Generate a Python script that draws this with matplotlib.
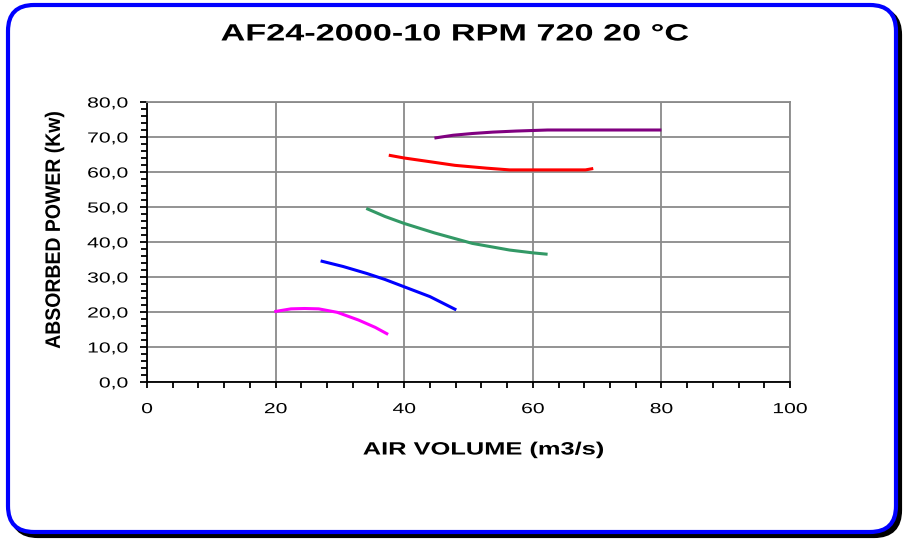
import matplotlib
matplotlib.use("Agg")
import matplotlib.pyplot as plt
from matplotlib.patches import FancyBboxPatch
from matplotlib.ticker import MultipleLocator, FuncFormatter
from matplotlib.patheffects import AbstractPathEffect
from matplotlib.transforms import Affine2D

plt.rcParams['font.family'] = ['Liberation Sans', 'DejaVu Sans']

title = "AF24-2000-10 RPM 720 20 °C"
xlabel = "AIR VOLUME (m3/s)"
ylabel = "ABSORBED POWER (Kw)"

purple_x = [44.7, 47.6, 50.6, 53.8, 57.4, 62.3, 70.0, 80.0]
purple_y = [69.7, 70.5, 71.0, 71.4, 71.7, 72.0, 72.0, 72.0]

red_x = [37.6, 40.0, 43.4, 47.9, 52.8, 56.4, 62.0, 68.2, 69.4]
red_y = [64.8, 64.0, 63.1, 61.9, 61.1, 60.6, 60.6, 60.6, 61.0]

green_x = [34.1, 37.0, 40.0, 44.7, 50.6, 56.4, 60.0, 62.3]
green_y = [49.6, 47.3, 45.3, 42.6, 39.6, 37.7, 36.9, 36.5]

blue_x = [27.0, 30.5, 34.2, 37.0, 40.0, 44.0, 48.1]
blue_y = [34.6, 33.0, 31.0, 29.3, 27.2, 24.4, 20.6]

magenta_x = [19.8, 22.4, 24.5, 26.7, 29.6, 32.9, 35.5, 37.5]
magenta_y = [20.1, 20.9, 21.0, 20.9, 19.9, 17.7, 15.6, 13.6]

series = [
    (purple_x, purple_y, '#800080'),
    (red_x, red_y, '#FF0000'),
    (green_x, green_y, '#339966'),
    (blue_x, blue_y, '#0000FF'),
    (magenta_x, magenta_y, '#FF00FF'),
]


class HStretch(AbstractPathEffect):
    """Stretch rendered text horizontally (the reference font is wide)."""

    def __init__(self, sx, anchor='center'):
        super().__init__()
        self.sx = sx
        self.anchor = anchor

    def draw_path(self, renderer, gc, tpath, affine, rgbFace=None):
        verts = affine.transform(tpath.vertices)
        if len(verts) == 0:
            renderer.draw_path(gc, tpath, affine, rgbFace)
            return
        x0, x1 = verts[:, 0].min(), verts[:, 0].max()
        cx = {'center': (x0 + x1) / 2, 'right': x1, 'left': x0}[self.anchor]
        new_aff = affine + Affine2D().translate(-cx, 0).scale(self.sx, 1).translate(cx, 0)
        renderer.draw_path(gc, tpath, new_aff, rgbFace)


W, H = 906, 541
fig = plt.figure(figsize=(W / 100, H / 100), dpi=100)

# background frame (pixel coordinates)
bg = fig.add_axes([0, 0, 1, 1], zorder=0)
bg.set_xlim(0, W)
bg.set_ylim(H, 0)
bg.axis('off')
shadow = FancyBboxPatch((12, 9), 888, 527, boxstyle="round,pad=0,rounding_size=26",
                        linewidth=3, edgecolor='black', facecolor='black')
bg.add_patch(shadow)
frame = FancyBboxPatch((8, 5), 888, 527, boxstyle="round,pad=0,rounding_size=26",
                       linewidth=3, edgecolor='#0000FF', facecolor='white')
bg.add_patch(frame)

ax = fig.add_axes([147 / W, 1 - 382 / H, (790 - 147) / W, (382 - 102) / H], zorder=1)
ax.set_facecolor('none')
for xs, ys, c in series:
    ax.plot(xs, ys, color=c, linewidth=2.2, solid_capstyle='butt')

ax.set_xlim(0, 100)
ax.set_ylim(0, 80)
ax.xaxis.set_major_locator(MultipleLocator(20))
ax.xaxis.set_minor_locator(MultipleLocator(4))
ax.yaxis.set_major_locator(MultipleLocator(10))
ax.yaxis.set_minor_locator(MultipleLocator(2))
ax.yaxis.set_major_formatter(FuncFormatter(lambda v, p: f"{v:.1f}".replace('.', ',')))
ax.grid(True, which='major', color='#8a8a8a', linewidth=1.3)
ax.set_axisbelow(True)
for s in ['top', 'right']:
    ax.spines[s].set_color('#8a8a8a')
    ax.spines[s].set_linewidth(1.3)
for s in ['left', 'bottom']:
    ax.spines[s].set_color('black')
    ax.spines[s].set_linewidth(1.3)
ax.tick_params(axis='y', which='major', direction='out', length=5, width=1.3, labelsize=10.5, pad=8.5)
ax.tick_params(axis='y', which='minor', direction='out', length=4, width=1.3)
ax.tick_params(axis='x', which='major', direction='out', length=4, width=1.3, labelsize=10.5, pad=10.5)
ax.tick_params(axis='x', which='minor', direction='out', length=4, width=1.3)

for lab in ax.get_yticklabels():
    lab.set_path_effects([HStretch(1.45, 'right')])
for lab in ax.get_xticklabels():
    lab.set_path_effects([HStretch(1.45, 'center')])

fig.text(455 / W, 1 - 34 / H, title, ha='center', va='center', fontsize=17, fontweight='bold',
         path_effects=[HStretch(1.45)])
fig.text(483 / W, 1 - 450 / H, xlabel, ha='center', va='center', fontsize=12.8, fontweight='bold',
         path_effects=[HStretch(1.43)])
fig.text(55 / W, 1 - 230 / H, ylabel, ha='center', va='center', fontsize=14, fontweight='bold',
         rotation=90, path_effects=[HStretch(1.08)])

fig.savefig('out.png', dpi=100)
